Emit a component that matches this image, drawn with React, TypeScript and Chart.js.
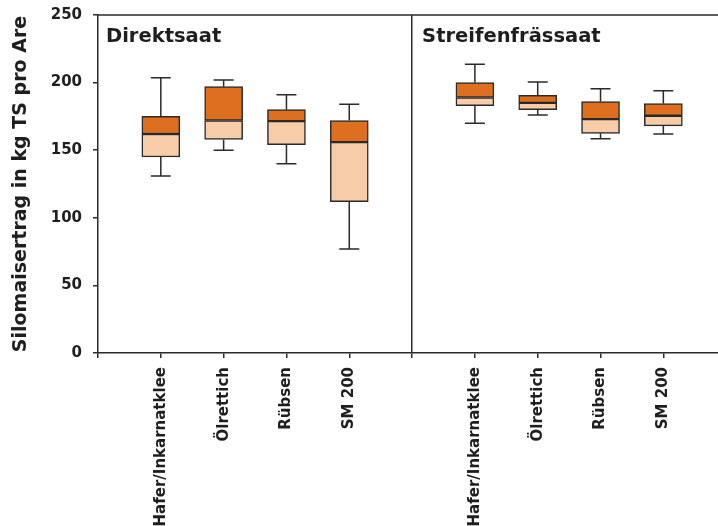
import React, { useEffect, useRef } from "react";
import { Chart, registerables } from "chart.js";

Chart.register(...registerables);

const categories = ["Hafer/Inkarnatklee", "Ölrettich", "Rübsen", "SM 200"];
const panelTitles = ["Direktsaat", "Streifenfrässaat"];
const yTicks = [0, 50, 100, 150, 200, 250];

// Direktsaat
const direktMin = [131, 150, 140, 77];
const direktQ1 = [145, 158, 154, 112];
const direktMed = [162, 172, 171.5, 156];
const direktQ3 = [175, 197, 180, 172];
const direktMax = [203.5, 202, 191, 184];

// Streifenfrässaat
const streifenMin = [170, 176, 158.5, 162];
const streifenQ1 = [183, 180, 162.5, 168];
const streifenMed = [189, 185, 173, 175.5];
const streifenQ3 = [200, 190.5, 186, 184.5];
const streifenMax = [213.5, 200.5, 195.5, 194];

const direktPos = [1, 2, 3, 4];
const streifenPos = [6, 7, 8, 9];
const dividerPos = 5;

const DARK = "#2a2a2a";
const ORANGE = "#DE6F1F";
const PEACH = "#F6CCA9";
const FONT = '"DejaVu Sans", sans-serif';

export default function App() {
  const ref = useRef<HTMLCanvasElement | null>(null);

  useEffect(() => {
    document.body.style.margin = "0";
    const canvas = ref.current;
    if (!canvas) return;

    const positions = [...direktPos, ...streifenPos];
    const mins = [...direktMin, ...streifenMin];
    const q1s = [...direktQ1, ...streifenQ1];
    const meds = [...direktMed, ...streifenMed];
    const q3s = [...direktQ3, ...streifenQ3];
    const maxs = [...direktMax, ...streifenMax];

    const labelAt: Record<number, string> = {};
    direktPos.forEach((p, i) => (labelAt[p] = categories[i]));
    streifenPos.forEach((p, i) => (labelAt[p] = categories[i]));

    const whiskerPlugin = {
      id: "whiskers",
      beforeDatasetsDraw(chart: any) {
        const { ctx, scales } = chart;
        const xs = scales.x;
        const ys = scales.y;
        ctx.save();
        ctx.strokeStyle = DARK;
        ctx.lineWidth = 1.5;
        positions.forEach((p, i) => {
          const x = xs.getPixelForValue(p);
          const yMin = ys.getPixelForValue(mins[i]);
          const yQ1 = ys.getPixelForValue(q1s[i]);
          const yQ3 = ys.getPixelForValue(q3s[i]);
          const yMax = ys.getPixelForValue(maxs[i]);
          ctx.beginPath();
          ctx.moveTo(x, yQ3);
          ctx.lineTo(x, yMax);
          ctx.moveTo(x - 10, yMax);
          ctx.lineTo(x + 10, yMax);
          ctx.moveTo(x, yQ1);
          ctx.lineTo(x, yMin);
          ctx.moveTo(x - 10, yMin);
          ctx.lineTo(x + 10, yMin);
          ctx.stroke();
        });
        ctx.restore();
      },
    };

    const framePlugin = {
      id: "frame",
      afterDraw(chart: any) {
        const { ctx, chartArea, scales } = chart;
        ctx.save();
        ctx.strokeStyle = DARK;
        ctx.lineWidth = 1.5;
        ctx.beginPath();
        ctx.moveTo(chartArea.left, chartArea.top);
        ctx.lineTo(chartArea.right, chartArea.top);
        ctx.stroke();
        ctx.fillStyle = "#1e1e1e";
        ctx.font = `bold 19.5px ${FONT}`;
        ctx.textBaseline = "alphabetic";
        ctx.textAlign = "left";
        ctx.fillText(panelTitles[0], chartArea.left + 8, chartArea.top + 27);
        ctx.fillText(
          panelTitles[1],
          scales.x.getPixelForValue(dividerPos) + 10,
          chartArea.top + 27
        );
        ctx.restore();
      },
    };

    const chart = new Chart(canvas, {
      type: "bar",
      data: {
        datasets: [
          {
            label: "Q1-Median",
            data: positions.map((p, i) => ({ x: p, y: [q1s[i], meds[i]] })) as any,
            backgroundColor: PEACH,
            borderColor: DARK,
            borderWidth: 1.5,
            borderSkipped: false,
            barThickness: 38,
            grouped: false,
          } as any,
          {
            label: "Median-Q3",
            data: positions.map((p, i) => ({ x: p, y: [meds[i], q3s[i]] })) as any,
            backgroundColor: ORANGE,
            borderColor: DARK,
            borderWidth: 1.5,
            borderSkipped: false,
            barThickness: 38,
            grouped: false,
          } as any,
        ],
      },
      options: {
        animation: false,
        responsive: false,
        layout: { padding: { top: 15, right: 0, left: 0, bottom: 0 } },
        plugins: {
          legend: { display: false },
          tooltip: { enabled: false },
        },
        scales: {
          x: {
            type: "linear",
            min: 0,
            max: 9.87,
            offset: false,
            afterBuildTicks: (scale: any) => {
              scale.ticks = [0, 1, 2, 3, 4, 5, 6, 7, 8, 9].map((v) => ({ value: v }));
            },
            afterFit: (scale: any) => {
              scale.height = 173;
              scale.paddingLeft = 0;
              scale.paddingRight = 0;
            },
            ticks: {
              autoSkip: false,
              minRotation: 90,
              maxRotation: 90,
              padding: 9,
              color: "#1e1e1e",
              font: { family: FONT, size: 15, weight: "bold" },
              callback: (value: any) => labelAt[Number(value)] ?? "",
            },
            grid: {
              offset: false,
              drawOnChartArea: true,
              drawTicks: true,
              tickLength: 5,
              lineWidth: 1.5,
              color: (ctx: any) =>
                ctx.tick && ctx.tick.value === dividerPos ? DARK : "rgba(0,0,0,0)",
              tickColor: DARK,
            },
            border: { display: true, color: DARK, width: 1.5 },
          },
          y: {
            type: "linear",
            min: 0,
            max: 250,
            afterBuildTicks: (scale: any) => {
              scale.ticks = yTicks.map((v) => ({ value: v }));
            },
            afterFit: (scale: any) => {
              scale.width = 98;
              scale.paddingTop = 0;
              scale.paddingBottom = 0;
            },
            ticks: {
              padding: 11,
              color: "#1e1e1e",
              font: { family: FONT, size: 15, weight: "bold" },
            },
            grid: {
              drawOnChartArea: false,
              drawTicks: true,
              tickLength: 5,
              lineWidth: 1.5,
              color: DARK,
            },
            border: { display: true, color: DARK, width: 1.5 },
            title: {
              display: true,
              text: "Silomaisertrag in kg TS pro Are",
              color: "#1e1e1e",
              font: { family: FONT, size: 19, weight: "bold" },
              padding: { top: 10, bottom: 0 },
            },
          },
        },
      },
      plugins: [whiskerPlugin, framePlugin],
    });

    return () => chart.destroy();
  }, []);

  return (
    <div style={{ width: 718, height: 526, position: "relative" }}>
      <canvas ref={ref} width={718} height={526} style={{ display: "block" }} />
    </div>
  );
}
